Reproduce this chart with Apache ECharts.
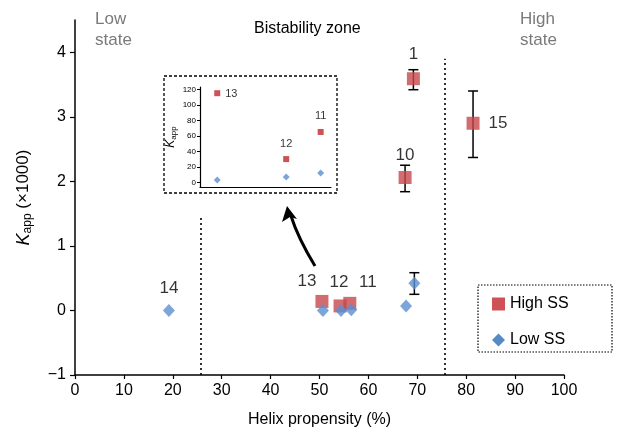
<!DOCTYPE html>
<html>
<head>
<meta charset="utf-8">
<script src="https://cdn.jsdelivr.net/npm/echarts@6/dist/echarts.min.js"></script>
<style>html,body{margin:0;padding:0;background:#fff}#c{width:617px;height:434px}</style>
</head>
<body>
<div id="c"></div>
<script>
// ---- data ----
const highX = [50.5, 54.2, 56.2, 67.5, 69.2, 81.4];
const highY = [0.14, 0.07, 0.11, 2.06, 3.59, 2.90];
const highLabels = ['13', '12', '11', '10', '1', '15'];
const lowX = [19.2, 50.7, 54.4, 56.5, 67.7, 69.4];
const lowY = [0.0, 0.0, 0.0, 0.01, 0.07, 0.42];
const lowLabels = ['14', '', '', '', '', ''];
// error bars: x, low, high
const errX = [67.5, 69.2, 81.4, 69.4];
const errLo = [1.84, 3.42, 2.37, 0.25];
const errHi = [2.25, 3.73, 3.40, 0.585];
// inset (K_app, not x1000)
const insetX = [51, 55, 57];
const insetHigh = [115, 30, 65];
const insetLow = [3, 7, 12];
const insetLabels = ['13', '12', '11'];
const yTicks = [-1, 0, 1, 2, 3, 4];
const xTicks = [0, 10, 20, 30, 40, 50, 60, 70, 80, 90, 100];
const insetYTicks = [0, 20, 40, 60, 80, 100, 120];
const zoneBounds = [25.7, 75.7];
const zoneTops = [1.48, 3.9];

// ---- styles ----
const RED = '#c8474a', BLUE = '#5b8ed0';
const highLabelPos = [['top', [-15, 0]], ['top', [-1, -4]], ['top', [18, -1]], ['top', [0, -2]], ['top', [0, -4]], ['right', [4, 0]]];
const insetLabelPos = [['right', [0, 1]], ['top', [0, -2]], ['top', [0, -2]]];
const FONT = 'Liberation Sans, Arial, sans-serif';

const chart = echarts.init(document.getElementById('c'), null, {renderer: 'canvas'});

const highData = highX.map((x, i) => ({
  value: [x, highY[i]],
  label: {show: true, formatter: highLabels[i], position: highLabelPos[i][0], offset: highLabelPos[i][1], fontSize: 17, color: '#000', fontFamily: FONT}
}));
const lowData = lowX.map((x, i) => ({
  value: [x, lowY[i]],
  label: {show: !!lowLabels[i], formatter: lowLabels[i], position: 'top', offset: [0, -2], fontSize: 17, color: '#000', fontFamily: FONT}
}));
const errData = errX.map((x, i) => [x, errLo[i], errHi[i]]);
const insetHighData = insetX.map((x, i) => ({
  value: [x, insetHigh[i]],
  label: {show: true, formatter: insetLabels[i], position: insetLabelPos[i][0], offset: insetLabelPos[i][1], fontSize: 11, color: '#000', fontFamily: FONT}
}));
const insetLowData = insetX.map((x, i) => [x, insetLow[i]]);

const option = {
  animation: false,
  textStyle: {fontFamily: FONT},
  grid: [
    {left: 75, right: 53, top: 20, bottom: 59, containLabel: false},
    {left: 200, top: 87, width: 131, height: 100, containLabel: false}
  ],
  xAxis: [
    {
      type: 'value', gridIndex: 0, min: 0, max: 100, interval: 10,
      name: 'Helix propensity (%)', nameLocation: 'middle', nameGap: 37,
      nameTextStyle: {fontSize: 16, color: '#000', fontFamily: FONT},
      axisLine: {onZero: false, lineStyle: {color: '#000', width: 1.5}},
      axisTick: {show: true, length: 4, lineStyle: {color: '#000', width: 1.2}},
      axisLabel: {fontSize: 16, color: '#000', margin: 8, fontFamily: FONT},
      splitLine: {show: false}
    },
    {
      type: 'value', gridIndex: 1, min: 50, max: 57.6,
      axisLine: {onZero: false, lineStyle: {color: '#000', width: 1.2}},
      axisTick: {show: false}, axisLabel: {show: false}, splitLine: {show: false}
    }
  ],
  yAxis: [
    {
      type: 'value', gridIndex: 0, min: -1, max: 4.5,
      name: '{k|K}{s|app} (×1000)', nameLocation: 'middle', nameGap: 41, nameRotate: 90,
      nameTextStyle: {fontSize: 17, color: '#000', fontFamily: FONT,
        rich: {k: {fontSize: 18, fontStyle: 'italic', color: '#000', fontFamily: FONT},
               s: {fontSize: 12, color: '#000', fontFamily: FONT, padding: [9, 0, 0, 0]}}},
      axisLine: {onZero: false, lineStyle: {color: '#000', width: 1.5}},
      axisTick: {show: true, length: 5, customValues: yTicks, lineStyle: {color: '#000', width: 1.2}},
      axisLabel: {fontSize: 16, color: '#000', margin: 9, customValues: yTicks, fontFamily: FONT,
        formatter: v => v < 0 ? '\u2212' + Math.abs(v) : String(v)},
      splitLine: {show: false}
    },
    {
      type: 'value', gridIndex: 1, min: -6, max: 123,
      name: '{k|K}{s|app}', nameLocation: 'middle', nameGap: 22, nameRotate: 90,
      nameTextStyle: {fontSize: 11, color: '#000',
        rich: {k: {fontSize: 12, fontStyle: 'italic', color: '#000', fontFamily: FONT},
               s: {fontSize: 8, color: '#000', fontFamily: FONT, padding: [6, 0, 0, 0]}}},
      axisLine: {onZero: false, lineStyle: {color: '#000', width: 1.2}},
      axisTick: {show: true, length: 3, customValues: insetYTicks, lineStyle: {color: '#000'}},
      axisLabel: {fontSize: 8, color: '#000', margin: 4, customValues: insetYTicks, fontFamily: FONT},
      splitLine: {show: false}
    }
  ],
  legend: {
    orient: 'vertical', left: 487, top: 291, itemGap: 20, itemWidth: 13, itemHeight: 13,
    textStyle: {fontSize: 16, color: '#000', fontFamily: FONT},
    data: [
      {name: 'High SS', icon: 'rect', itemStyle: {color: '#c0252b'}},
      {name: 'Low SS', icon: 'diamond', itemStyle: {color: '#2a6db5'}}
    ]
  },
  series: [
    {
      type: 'custom', name: 'err', xAxisIndex: 0, yAxisIndex: 0, z: 1,
      data: errData, encode: {x: 0, y: [1, 2]},
      renderItem: function (params, api) {
        const x = api.value(0);
        const lo = api.coord([x, api.value(1)]);
        const hi = api.coord([x, api.value(2)]);
        const w = 5;
        const st = {stroke: '#000', lineWidth: 1.5};
        return {type: 'group', children: [
          {type: 'line', shape: {x1: lo[0], y1: lo[1], x2: hi[0], y2: hi[1]}, style: st},
          {type: 'line', shape: {x1: lo[0] - w, y1: lo[1], x2: lo[0] + w, y2: lo[1]}, style: st},
          {type: 'line', shape: {x1: hi[0] - w, y1: hi[1], x2: hi[0] + w, y2: hi[1]}, style: st}
        ]};
      }
    },
    {
      type: 'line', name: 'zones', xAxisIndex: 0, yAxisIndex: 0, data: [], symbol: 'none',
      markLine: {
        silent: true, symbol: 'none', label: {show: false},
        lineStyle: {color: '#000', type: [2, 3], width: 1.6},
        data: zoneBounds.map((b, i) => [{coord: [b, -1]}, {coord: [b, zoneTops[i]]}])
      }
    },
    {
      type: 'scatter', name: 'High SS', xAxisIndex: 0, yAxisIndex: 0, z: 3,
      symbol: 'rect', symbolSize: 13, itemStyle: {color: RED}, data: highData
    },
    {
      type: 'scatter', name: 'Low SS', xAxisIndex: 0, yAxisIndex: 0, z: 4,
      symbol: 'diamond', symbolSize: [12, 13], itemStyle: {color: BLUE}, data: lowData
    },
    {
      type: 'scatter', name: 'High SS', xAxisIndex: 1, yAxisIndex: 1, z: 3,
      symbol: 'rect', symbolSize: 6, itemStyle: {color: '#c0252b'}, data: insetHighData
    },
    {
      type: 'scatter', name: 'Low SS', xAxisIndex: 1, yAxisIndex: 1, z: 3,
      symbol: 'diamond', symbolSize: 7, itemStyle: {color: BLUE}, data: insetLowData
    }
  ],
  graphic: [
    {type: 'text', left: 95, top: 9, style: {text: 'Low\nstate', fontSize: 17, lineHeight: 21, fill: '#7a7a7a', fontFamily: FONT}},
    {type: 'text', left: 520, top: 9, style: {text: 'High\nstate', fontSize: 17, lineHeight: 21, fill: '#7a7a7a', fontFamily: FONT}},
    {type: 'text', left: 254, top: 21, style: {text: 'Bistability zone', fontSize: 16, fill: '#000', fontFamily: FONT}},
    {type: 'rect', shape: {x: 164, y: 76, width: 173, height: 117}, style: {fill: 'none', stroke: '#000', lineWidth: 1.3, lineDash: [3, 2]}},
    {type: 'rect', shape: {x: 478, y: 285, width: 134, height: 67}, style: {fill: 'none', stroke: '#000', lineWidth: 1.2, lineDash: [1.5, 1.5]}},
    {type: 'bezierCurve', shape: {x1: 315, y1: 266, cpx1: 298, cpy1: 238, x2: 291, y2: 216}, style: {stroke: '#000', lineWidth: 3, fill: 'none'}},
    {type: 'polygon', shape: {points: [[287, 206], [282, 222], [290, 217], [297, 219]]}, style: {fill: '#000'}}
  ]
};
chart.setOption(option);
</script>
</body>
</html>
